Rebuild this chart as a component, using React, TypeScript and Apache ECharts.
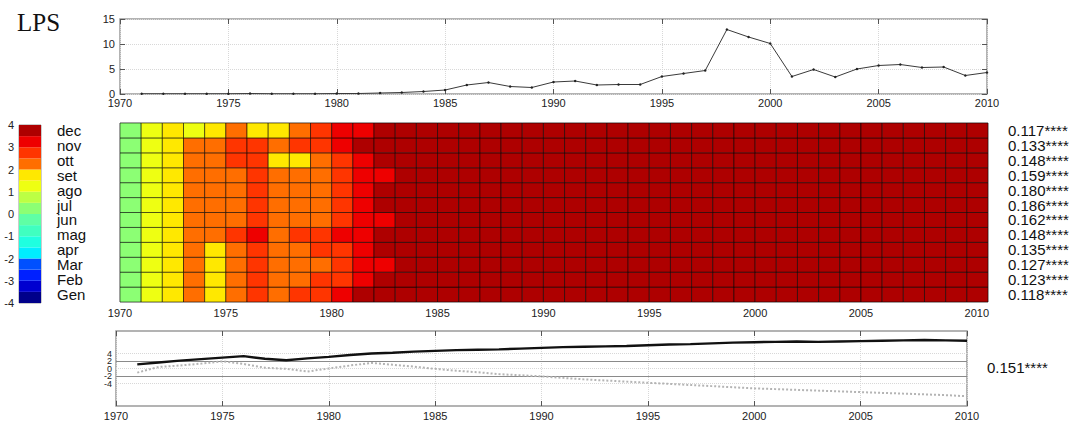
import React, { useEffect, useRef } from 'react';
import * as echarts from 'echarts';

const lineYears = [1971, 1972, 1973, 1974, 1975, 1976, 1977, 1978, 1979, 1980, 1981, 1982, 1983, 1984, 1985, 1986, 1987, 1988, 1989, 1990, 1991, 1992, 1993, 1994, 1995, 1996, 1997, 1998, 1999, 2000, 2001, 2002, 2003, 2004, 2005, 2006, 2007, 2008, 2009, 2010];
const heatYears = [1970, 1971, 1972, 1973, 1974, 1975, 1976, 1977, 1978, 1979, 1980, 1981, 1982, 1983, 1984, 1985, 1986, 1987, 1988, 1989, 1990, 1991, 1992, 1993, 1994, 1995, 1996, 1997, 1998, 1999, 2000, 2001, 2002, 2003, 2004, 2005, 2006, 2007, 2008, 2009, 2010];

const topValues = [0.05, 0.05, 0.05, 0.05, 0.05, 0.1, 0.05, 0.05, 0.05, 0.1, 0.1, 0.2, 0.3, 0.5, 0.8, 1.8, 2.3, 1.5, 1.3, 2.4, 2.6, 1.8, 1.9, 1.9, 3.5, 4.1, 4.7, 12.9, 11.4, 10.1, 3.5, 4.9, 3.4, 5.0, 5.7, 5.9, 5.3, 5.4, 3.7, 4.3];

const months = ['Gen', 'Feb', 'Mar', 'apr', 'mag', 'jun', 'jul', 'ago', 'set', 'ott', 'nov', 'dec'];
const monthCoefs = ['0.118****', '0.123****', '0.127****', '0.135****', '0.148****', '0.162****', '0.186****', '0.180****', '0.159****', '0.148****', '0.133****', '0.117****'];

const colorBounds = [-4, -3.5, -3, -2.5, -2, -1.5, -1, -0.5, 0, 0.5, 1, 1.5, 2, 2.5, 3, 3.5, 4];
const colorList = ['#00008A', '#0000D0', '#0020FF', '#0050FF', '#00EEFF', '#1FFFE0', '#40FFC0', '#5FFFA5', '#8CFF74', '#BCFF44', '#EEFF12', '#FFE800', '#FF6E00', '#FF3500', '#EE0000', '#AE0000'];

const heatGen = [0.3, 1.3, 1.8, 2.3, 1.8, 2.3, 2.8, 2.3, 2.8, 2.8, 3.3, 3.8, 3.8, 3.8, 3.8, 3.8, 3.8, 3.8, 3.8, 3.8, 3.8, 3.8, 3.8, 3.8, 3.8, 3.8, 3.8, 3.8, 3.8, 3.8, 3.8, 3.8, 3.8, 3.8, 3.8, 3.8, 3.8, 3.8, 3.8, 3.8, 3.8];
const heatFeb = [0.3, 1.3, 1.8, 2.3, 1.8, 2.3, 2.8, 2.3, 2.3, 2.8, 2.8, 3.3, 3.8, 3.8, 3.8, 3.8, 3.8, 3.8, 3.8, 3.8, 3.8, 3.8, 3.8, 3.8, 3.8, 3.8, 3.8, 3.8, 3.8, 3.8, 3.8, 3.8, 3.8, 3.8, 3.8, 3.8, 3.8, 3.8, 3.8, 3.8, 3.8];
const heatMar = [0.3, 1.3, 1.8, 2.3, 1.8, 2.3, 2.8, 2.3, 2.3, 2.3, 2.8, 3.3, 3.3, 3.8, 3.8, 3.8, 3.8, 3.8, 3.8, 3.8, 3.8, 3.8, 3.8, 3.8, 3.8, 3.8, 3.8, 3.8, 3.8, 3.8, 3.8, 3.8, 3.8, 3.8, 3.8, 3.8, 3.8, 3.8, 3.8, 3.8, 3.8];
const heatApr = [0.3, 1.3, 1.8, 2.3, 1.8, 2.3, 2.8, 2.3, 2.3, 2.8, 2.8, 3.3, 3.8, 3.8, 3.8, 3.8, 3.8, 3.8, 3.8, 3.8, 3.8, 3.8, 3.8, 3.8, 3.8, 3.8, 3.8, 3.8, 3.8, 3.8, 3.8, 3.8, 3.8, 3.8, 3.8, 3.8, 3.8, 3.8, 3.8, 3.8, 3.8];
const heatMag = [0.3, 1.3, 1.8, 2.3, 2.3, 2.8, 3.3, 2.3, 2.8, 2.8, 3.3, 3.3, 3.8, 3.8, 3.8, 3.8, 3.8, 3.8, 3.8, 3.8, 3.8, 3.8, 3.8, 3.8, 3.8, 3.8, 3.8, 3.8, 3.8, 3.8, 3.8, 3.8, 3.8, 3.8, 3.8, 3.8, 3.8, 3.8, 3.8, 3.8, 3.8];
const heatJun = [0.3, 1.3, 1.8, 2.3, 2.3, 2.3, 2.8, 2.3, 2.3, 2.3, 2.8, 3.3, 3.3, 3.8, 3.8, 3.8, 3.8, 3.8, 3.8, 3.8, 3.8, 3.8, 3.8, 3.8, 3.8, 3.8, 3.8, 3.8, 3.8, 3.8, 3.8, 3.8, 3.8, 3.8, 3.8, 3.8, 3.8, 3.8, 3.8, 3.8, 3.8];
const heatJul = [0.3, 1.3, 1.8, 2.3, 2.3, 2.3, 2.8, 2.3, 2.3, 2.3, 2.8, 3.3, 3.8, 3.8, 3.8, 3.8, 3.8, 3.8, 3.8, 3.8, 3.8, 3.8, 3.8, 3.8, 3.8, 3.8, 3.8, 3.8, 3.8, 3.8, 3.8, 3.8, 3.8, 3.8, 3.8, 3.8, 3.8, 3.8, 3.8, 3.8, 3.8];
const heatAgo = [0.3, 1.3, 1.8, 2.3, 2.3, 2.3, 2.8, 2.3, 2.3, 2.3, 2.8, 3.3, 3.8, 3.8, 3.8, 3.8, 3.8, 3.8, 3.8, 3.8, 3.8, 3.8, 3.8, 3.8, 3.8, 3.8, 3.8, 3.8, 3.8, 3.8, 3.8, 3.8, 3.8, 3.8, 3.8, 3.8, 3.8, 3.8, 3.8, 3.8, 3.8];
const heatSet = [0.3, 1.3, 1.8, 2.3, 2.3, 2.3, 2.8, 2.3, 2.3, 2.3, 2.8, 3.3, 3.3, 3.8, 3.8, 3.8, 3.8, 3.8, 3.8, 3.8, 3.8, 3.8, 3.8, 3.8, 3.8, 3.8, 3.8, 3.8, 3.8, 3.8, 3.8, 3.8, 3.8, 3.8, 3.8, 3.8, 3.8, 3.8, 3.8, 3.8, 3.8];
const heatOtt = [0.3, 1.3, 1.8, 2.3, 2.3, 2.8, 2.8, 1.8, 1.8, 2.3, 2.8, 3.3, 3.8, 3.8, 3.8, 3.8, 3.8, 3.8, 3.8, 3.8, 3.8, 3.8, 3.8, 3.8, 3.8, 3.8, 3.8, 3.8, 3.8, 3.8, 3.8, 3.8, 3.8, 3.8, 3.8, 3.8, 3.8, 3.8, 3.8, 3.8, 3.8];
const heatNov = [0.3, 1.3, 1.8, 2.3, 2.3, 2.8, 2.8, 2.3, 2.8, 2.8, 3.3, 3.8, 3.8, 3.8, 3.8, 3.8, 3.8, 3.8, 3.8, 3.8, 3.8, 3.8, 3.8, 3.8, 3.8, 3.8, 3.8, 3.8, 3.8, 3.8, 3.8, 3.8, 3.8, 3.8, 3.8, 3.8, 3.8, 3.8, 3.8, 3.8, 3.8];
const heatDec = [0.3, 1.3, 1.8, 1.3, 1.8, 2.3, 1.8, 1.8, 2.3, 2.8, 3.3, 3.3, 3.8, 3.8, 3.8, 3.8, 3.8, 3.8, 3.8, 3.8, 3.8, 3.8, 3.8, 3.8, 3.8, 3.8, 3.8, 3.8, 3.8, 3.8, 3.8, 3.8, 3.8, 3.8, 3.8, 3.8, 3.8, 3.8, 3.8, 3.8, 3.8];

const trendBlack = [1.1, 1.6, 2.1, 2.5, 2.9, 3.3, 2.6, 2.2, 2.7, 3.1, 3.6, 4.0, 4.2, 4.5, 4.7, 4.9, 5.0, 5.1, 5.3, 5.5, 5.7, 5.8, 5.9, 6.0, 6.2, 6.4, 6.5, 6.7, 6.9, 7.0, 7.1, 7.2, 7.1, 7.2, 7.3, 7.4, 7.5, 7.6, 7.5, 7.4];
const trendGray = [-1.1, 0.4, 0.8, 1.3, 1.9, 1.2, 0.2, -0.1, -0.8, 0.0, 0.8, 1.5, 1.0, 0.5, -0.1, -0.6, -1.0, -1.5, -1.8, -2.1, -2.5, -2.9, -3.2, -3.5, -3.8, -4.1, -4.4, -4.7, -5.0, -5.3, -5.5, -5.7, -5.9, -6.1, -6.3, -6.5, -6.7, -6.9, -7.1, -7.4];
const refLevelsDotted = [4, 0, -4];
const refLevelsSolid = [2, -2];
const overallCoef = '0.151****';

const FONT = 'Liberation Sans, Arial, sans-serif';

function colorFor(v: number): string {
  for (let i = 0; i < colorList.length; i++) {
    if (v >= colorBounds[i] && v < colorBounds[i + 1]) return colorList[i];
  }
  return v < colorBounds[0] ? colorList[0] : colorList[colorList.length - 1];
}

export default function App() {
  const ref = useRef<HTMLDivElement>(null);
  useEffect(() => {
    if (!ref.current) return;
    const chart = echarts.init(ref.current, undefined, { renderer: 'svg' });
    const heatRows = [heatGen, heatFeb, heatMar, heatApr, heatMag, heatJun, heatJul, heatAgo, heatSet, heatOtt, heatNov, heatDec];
    const heatData: number[][] = [];
    heatRows.forEach((row, mi) => {
      row.forEach((v, yi) => heatData.push([heatYears[yi], mi, v]));
    });
    const cbarData = colorList.map((c, i) => [0, colorBounds[i], colorBounds[i + 1], i]);

    const labelBase = { fontFamily: FONT, fontSize: 11, color: '#222' };
    const dotted = { show: true, lineStyle: { type: 'dotted', color: '#d8d8d8', width: 1 } };
    const tickIn = { show: true, inside: true, length: 5, lineStyle: { color: '#555', width: 1 } };
    const noLine = { show: false, onZero: false };
    const yearFmt = (v: number) => String(v);

    const option: any = {
      animation: false,
      title: {
        text: 'LPS', left: 12, top: 5,
        textStyle: { fontFamily: 'Liberation Serif, Times New Roman, serif', fontSize: 25, fontWeight: 'normal', color: '#111' },
      },
      grid: [
        { left: 120, top: 19, width: 867, height: 75, show: true, borderColor: '#9a9a9a', borderWidth: 1.5, backgroundColor: 'transparent' },
        { left: 120, top: 123, width: 868, height: 179, show: true, borderColor: '#bbbbbb', borderWidth: 1, backgroundColor: 'transparent' },
        { left: 19, top: 125, width: 22, height: 178, show: true, borderColor: '#999', borderWidth: 1, backgroundColor: 'transparent' },
        { left: 116, top: 331, width: 851, height: 75, show: true, borderColor: '#9a9a9a', borderWidth: 1.5, backgroundColor: 'transparent' },
      ],
      xAxis: [
        { type: 'value', gridIndex: 0, min: 1970, max: 2010, interval: 5, axisLine: noLine, axisTick: tickIn, splitLine: dotted, axisLabel: { ...labelBase, margin: 3, formatter: yearFmt } },
        { type: 'value', gridIndex: 0, position: 'top', min: 1970, max: 2010, interval: 5, axisLine: noLine, axisTick: tickIn, splitLine: { show: false }, axisLabel: { show: false } },
        {
          type: 'value', gridIndex: 1, min: 1970, max: 2011, interval: 5, axisLine: noLine, axisTick: { show: false }, splitLine: { show: false },
          axisLabel: {
            ...labelBase, margin: 5,
            formatter: (v: number) => (v === 2011 ? '' : v === 2010 ? '{s|2010}' : String(v)),
            rich: { s: { ...labelBase, padding: [0, 0, 0, 20] } },
          },
        },
        { type: 'value', gridIndex: 2, min: 0, max: 1, show: false, axisLine: noLine },
        { type: 'value', gridIndex: 3, min: 1970, max: 2010, interval: 5, axisLine: noLine, axisTick: tickIn, splitLine: dotted, axisLabel: { ...labelBase, margin: 4, formatter: yearFmt } },
        { type: 'value', gridIndex: 3, position: 'top', min: 1970, max: 2010, interval: 5, axisLine: noLine, axisTick: tickIn, splitLine: { show: false }, axisLabel: { show: false } },
      ],
      yAxis: [
        { type: 'value', gridIndex: 0, min: 0, max: 15, interval: 5, axisLine: noLine, axisTick: tickIn, splitLine: dotted, axisLabel: { ...labelBase, margin: 5 } },
        { type: 'value', gridIndex: 0, position: 'right', min: 0, max: 15, interval: 5, axisLine: noLine, axisTick: tickIn, splitLine: { show: false }, axisLabel: { show: false } },
        {
          type: 'category', gridIndex: 1, data: months, axisLine: noLine, axisTick: { show: false }, splitLine: { show: false },
          axisLabel: { fontFamily: FONT, fontSize: 15, color: '#111', align: 'left', margin: 63, interval: 0 },
        },
        {
          type: 'category', gridIndex: 1, position: 'right', data: monthCoefs, axisLine: noLine, axisTick: { show: false }, splitLine: { show: false },
          axisLabel: { fontFamily: FONT, fontSize: 15, color: '#111', align: 'left', margin: 20, interval: 0 },
        },
        {
          type: 'value', gridIndex: 2, min: -4, max: 4, interval: 1, axisLine: noLine, axisTick: { show: false }, splitLine: { show: false },
          axisLabel: { ...labelBase, margin: 5 },
        },
        {
          type: 'value', gridIndex: 3, min: -10, max: 10, interval: 2, axisLine: noLine, axisTick: { show: false }, splitLine: { show: false },
          axisLabel: { ...labelBase, fontSize: 9, margin: 4, formatter: (v: number) => (Math.abs(v) <= 4 ? String(v) : '') },
        },
        { type: 'value', gridIndex: 3, position: 'right', min: -10, max: 10, interval: 2, axisLine: noLine, axisTick: { show: false }, splitLine: { show: false }, axisLabel: { show: false } },
      ],
      series: [
        {
          type: 'line', xAxisIndex: 0, yAxisIndex: 0,
          data: lineYears.map((y, i) => [y, topValues[i]]),
          lineStyle: { color: '#3a3a3a', width: 1 }, itemStyle: { color: '#222' },
          symbol: 'circle', symbolSize: 2.5, showSymbol: true,
        },
        {
          type: 'custom', xAxisIndex: 2, yAxisIndex: 2, data: heatData,
          renderItem: (params: any, api: any) => {
            const p = api.coord([api.value(0), api.value(1)]);
            const s = api.size([1, 1]);
            return {
              type: 'rect',
              shape: { x: p[0], y: p[1] - s[1] / 2, width: s[0], height: s[1] },
              style: { fill: colorFor(api.value(2)), stroke: 'rgba(0,0,0,0.55)', lineWidth: 1 },
            };
          },
        },
        {
          type: 'custom', xAxisIndex: 3, yAxisIndex: 4, data: cbarData,
          encode: { x: 0, y: [1, 2] },
          renderItem: (params: any, api: any) => {
            const p0 = api.coord([0, api.value(2)]);
            const p1 = api.coord([1, api.value(1)]);
            return {
              type: 'rect',
              shape: { x: p0[0], y: p0[1], width: p1[0] - p0[0], height: p1[1] - p0[1] },
              style: { fill: colorList[api.value(3)] },
            };
          },
        },
        {
          type: 'line', xAxisIndex: 4, yAxisIndex: 5, data: [], z: 1,
          markLine: {
            silent: true, symbol: 'none', label: { show: false }, z: 1,
            data: [
              ...refLevelsDotted.map((v) => ({ yAxis: v, lineStyle: { type: 'dotted', color: '#d8d8d8', width: 1 } })),
              ...refLevelsSolid.map((v) => ({ yAxis: v, lineStyle: { type: 'solid', color: '#8a8a8a', width: 1 } })),
            ],
          },
        },
        {
          type: 'line', xAxisIndex: 4, yAxisIndex: 5,
          data: lineYears.map((y, i) => [y, trendGray[i]]),
          lineStyle: { color: '#b4b4b4', width: 2, type: 'dotted' }, symbol: 'none', z: 5,
        },
        {
          type: 'line', xAxisIndex: 4, yAxisIndex: 5,
          data: lineYears.map((y, i) => [y, trendBlack[i]]),
          lineStyle: { color: '#111', width: 2.5 }, symbol: 'none', z: 10,
        },
      ],
      graphic: [
        {
          type: 'text', left: 987, top: 360,
          style: { text: overallCoef, fontFamily: FONT, fontSize: 15, fill: '#111' },
        },
      ],
    };
    chart.setOption(option);
    return () => chart.dispose();
  }, []);
  return <div ref={ref} style={{ position: 'absolute', left: 0, top: 0, width: 1077, height: 421, background: '#fff' }} />;
}
